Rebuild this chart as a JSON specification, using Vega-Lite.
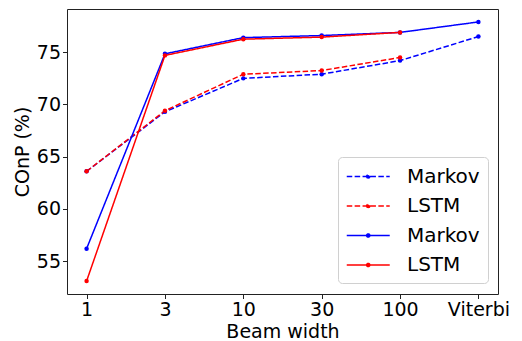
{
  "$schema": "https://vega.github.io/schema/vega-lite/v6.json",
  "width": 431,
  "height": 285,
  "autosize": {"type": "none"},
  "padding": {"left": 67, "top": 9, "right": 24, "bottom": 47},
  "background": "white",
  "config": {
    "font": "DejaVu Sans",
    "view": {"stroke": "#222", "strokeWidth": 1},
    "axis": {"labelFont": "DejaVu Sans", "titleFont": "DejaVu Sans", "labelColor": "black", "titleColor": "black", "tickColor": "#222", "grid": false, "domain": false, "labelFontSize": 19, "titleFontSize": 19, "titleFontWeight": "normal", "tickSize": 4.5, "labelPadding": 2}
  },
  "data": {
    "values": [
      {"s": "Markov_d", "x": "1", "y": 63.6},
      {"s": "Markov_d", "x": "3", "y": 69.3},
      {"s": "Markov_d", "x": "10", "y": 72.5},
      {"s": "Markov_d", "x": "30", "y": 72.9},
      {"s": "Markov_d", "x": "100", "y": 74.2},
      {"s": "Markov_d", "x": "Viterbi", "y": 76.5},
      {"s": "LSTM_d", "x": "1", "y": 63.6},
      {"s": "LSTM_d", "x": "3", "y": 69.4},
      {"s": "LSTM_d", "x": "10", "y": 72.9},
      {"s": "LSTM_d", "x": "30", "y": 73.25},
      {"s": "LSTM_d", "x": "100", "y": 74.5},
      {"s": "Markov_s", "x": "1", "y": 56.2},
      {"s": "Markov_s", "x": "3", "y": 74.85},
      {"s": "Markov_s", "x": "10", "y": 76.4},
      {"s": "Markov_s", "x": "30", "y": 76.6},
      {"s": "Markov_s", "x": "100", "y": 76.9},
      {"s": "Markov_s", "x": "Viterbi", "y": 77.9},
      {"s": "LSTM_s", "x": "1", "y": 53.1},
      {"s": "LSTM_s", "x": "3", "y": 74.7},
      {"s": "LSTM_s", "x": "10", "y": 76.25},
      {"s": "LSTM_s", "x": "30", "y": 76.45},
      {"s": "LSTM_s", "x": "100", "y": 76.9}
    ]
  },
  "mark": {"type": "line", "strokeWidth": 1.5, "point": {"filled": true, "size": 20, "opacity": 1}},
  "encoding": {
    "x": {
      "field": "x", "type": "ordinal",
      "sort": ["1", "3", "10", "30", "100", "Viterbi"],
      "scale": {"type": "point", "padding": 0.25},
      "axis": {"labelAngle": 0, "title": "Beam width", "titlePadding": 3}
    },
    "y": {
      "field": "y", "type": "quantitative",
      "scale": {"domain": [51.86, 79.14], "nice": false, "zero": false},
      "axis": {"values": [55, 60, 65, 70, 75], "title": "COnP (%)", "titlePadding": 4}
    },
    "color": {
      "field": "s", "type": "nominal",
      "scale": {"domain": ["Markov_d", "LSTM_d", "Markov_s", "LSTM_s"], "range": ["#0000ff", "#ff0000", "#0000ff", "#ff0000"]},
      "legend": {
        "title": null,
        "orient": "none",
        "legendX": 271,
        "legendY": 148,
        "labelExpr": "split(datum.label, '_')[0]",
        "labelFontSize": 20,
        "labelFont": "DejaVu Sans",
        "labelColor": "black",
        "symbolType": "M-1,0H3M0.85,0A0.15,0.15 0 1 0 1.15,0A0.15,0.15 0 1 0 0.85,0",
        "symbolSize": 462,
        "symbolStrokeWidth": 1.5,
        "labelOffset": 38,
        "rowPadding": 7.5,
        "padding": 8,
        "fillColor": "rgba(255,255,255,0.8)",
        "strokeColor": "#d0d0d0",
        "cornerRadius": 4
      }
    },
    "strokeDash": {
      "field": "s", "type": "nominal",
      "scale": {"domain": ["Markov_d", "LSTM_d", "Markov_s", "LSTM_s"], "range": [[5.5, 2.4], [5.5, 2.4], [1, 0], [1, 0]]},
      "legend": null
    }
  }
}
